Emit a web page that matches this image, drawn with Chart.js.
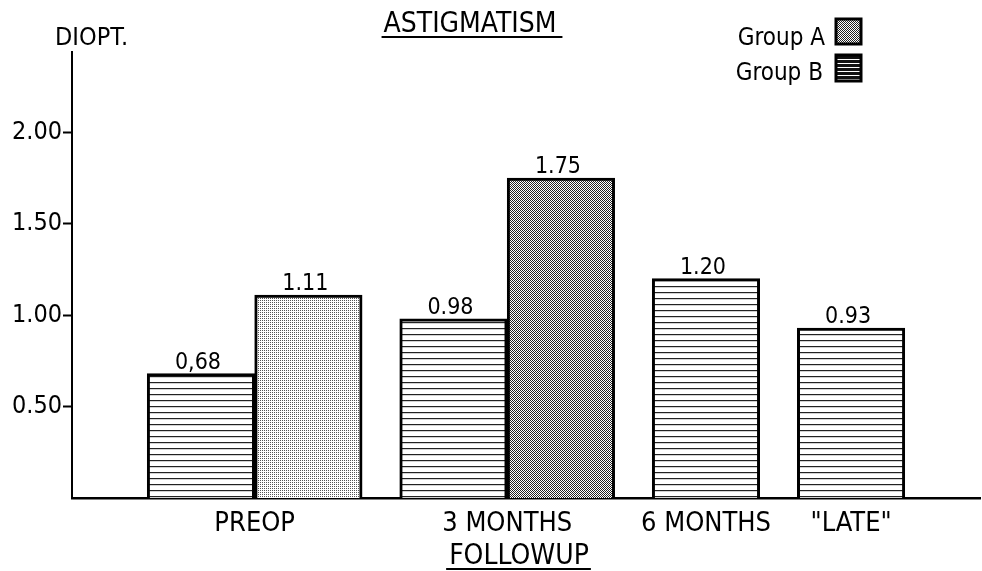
<!DOCTYPE html>
<html>
<head>
<meta charset="utf-8">
<title>Astigmatism</title>
<script src="https://cdn.jsdelivr.net/npm/chart.js@4"></script>
<style>
  html, body { margin: 0; padding: 0; background: #fff; }
</style>
</head>
<body>
<canvas id="astigChart" width="982" height="571"></canvas>
<script>
// values (dioptres)
const categories = ['PREOP', '3 MONTHS', '6 MONTHS', '"LATE"'];
const groupA = [1.11, 1.75, null, null];
const groupB = [0.68, 0.98, 1.20, 0.93];
const labelsA = ['1.11', '1.75', null, null];
const labelsB = ['0,68', '0.98', '1.20', '0.93'];
const yTicks = [0.50, 1.00, 1.50, 2.00];
const yMax = 2.44;

// spacing along the x axis, in bar widths
const leadGap = 0.7;
const groupGap = 0.35;
const trailGap = 0.7;

const FONT = "'Liberation Sans Narrow', 'DejaVu Sans Condensed', 'Liberation Sans', sans-serif";

// Bars sit side by side inside a category, categories separated by a small gap
function buildLayout() {
    const pointsA = [];
    const pointsB = [];
    const centers = [];
    let cursor = leadGap;
    categories.forEach((cat, i) => {
        const start = cursor;
        if (groupB[i] != null) {
            pointsB.push({ x: cursor + 0.5, y: groupB[i], label: labelsB[i] });
            cursor += 1;
        }
        if (groupA[i] != null) {
            pointsA.push({ x: cursor + 0.5, y: groupA[i], label: labelsA[i] });
            cursor += 1;
        }
        centers.push((start + cursor) / 2);
        cursor += (i < categories.length - 1) ? groupGap : trailGap;
    });
    return { pointsA, pointsB, centers, xMax: cursor };
}

const ctx = document.getElementById('astigChart').getContext('2d');

function makePattern(w, h, draw) {
    const c = document.createElement('canvas');
    c.width = w;
    c.height = h;
    const g = c.getContext('2d');
    g.fillStyle = '#fff';
    g.fillRect(0, 0, w, h);
    draw(g);
    return ctx.createPattern(c, 'repeat');
}

// hatching like the printed original
const linesFill = makePattern(8, 6, g => {
    g.fillStyle = '#222';
    g.fillRect(0, 4, 8, 1.2);
});
const lightDots = makePattern(2, 2, g => {
    g.fillStyle = '#555';
    g.fillRect(0, 0, 1, 1);
});
const darkDots = makePattern(2, 2, g => {
    g.fillStyle = '#222';
    g.fillRect(0, 0, 1, 1);
    g.fillRect(1, 1, 1, 1);
});
const legendLines = makePattern(4, 4, g => {
    g.fillStyle = '#111';
    g.fillRect(0, 0, 4, 3);
});

const layoutInfo = buildLayout();

function drawUnderlined(c, text, x, y, lineY, extraLeft, extraRight) {
    c.fillText(text, x, y);
    const w = c.measureText(text).width;
    c.beginPath();
    c.lineWidth = 2;
    c.moveTo(x - w / 2 - extraLeft, lineY);
    c.lineTo(x + w / 2 + extraRight, lineY);
    c.stroke();
}

const annotations = {
    id: 'annotations',
    afterDatasetsDraw(chart) {
        const c = chart.ctx;
        c.save();
        c.fillStyle = '#000';
        c.font = '23px ' + FONT;
        c.textAlign = 'center';
        c.textBaseline = 'alphabetic';
        chart.data.datasets.forEach((ds, di) => {
            const meta = chart.getDatasetMeta(di);
            meta.data.forEach((bar, i) => {
                const txt = ds.data[i].label;
                if (txt) c.fillText(txt, bar.x - 3, bar.y - 5);
            });
        });
        c.restore();
    },
    afterDraw(chart) {
        const c = chart.ctx;
        c.save();
        c.fillStyle = '#000';
        c.strokeStyle = '#000';
        c.textBaseline = 'alphabetic';

        // title
        c.font = '28px ' + FONT;
        c.textAlign = 'center';
        drawUnderlined(c, 'ASTIGMATISM', 470, 32, 37, 2, 6);

        // y unit
        c.font = '25px ' + FONT;
        c.textAlign = 'left';
        c.fillText('DIOPT.', 55, 45);

        // x title
        c.font = '28px ' + FONT;
        c.textAlign = 'center';
        drawUnderlined(c, 'FOLLOWUP', 519, 564, 569, 3, 2);

        // legend
        c.font = '24px ' + FONT;
        c.textAlign = 'right';
        c.fillText('Group A', 825, 45);
        c.fillText('Group B', 823, 80);
        c.lineWidth = 3;
        c.fillStyle = darkDots;
        c.fillRect(836, 19, 25, 25);
        c.strokeRect(836, 19, 25, 25);
        c.fillStyle = legendLines;
        c.fillRect(836, 55, 25, 26);
        c.strokeRect(836, 55, 25, 26);
        c.restore();
    }
};

const chart = new Chart(ctx, {
    type: 'bar',
    data: {
        datasets: [
            {
                label: 'Group B',
                data: layoutInfo.pointsB,
                backgroundColor: linesFill,
                borderColor: '#000',
                borderWidth: 3,
                grouped: false,
                barPercentage: 1,
                categoryPercentage: 1
            },
            {
                label: 'Group A',
                data: layoutInfo.pointsA,
                backgroundColor: [lightDots, darkDots],
                borderColor: '#000',
                borderWidth: 3,
                grouped: false,
                barPercentage: 1,
                categoryPercentage: 1
            }
        ]
    },
    options: {
        responsive: false,
        animation: false,
        layout: { padding: { top: 52, right: 2, left: 0, bottom: 0 } },
        scales: {
            x: {
                type: 'linear',
                offset: false,
                min: 0,
                max: layoutInfo.xMax,
                afterFit: scale => { scale.height = 73; },
                afterBuildTicks: scale => {
                    scale.ticks = layoutInfo.centers.map(v => ({ value: v }));
                },
                grid: { display: false },
                border: { display: true, color: '#000', width: 2.5 },
                ticks: {
                    autoSkip: false,
                    maxRotation: 0,
                    padding: 2,
                    color: '#000',
                    font: { family: FONT, size: 27 },
                    callback: (value, index) => categories[index]
                }
            },
            y: {
                min: 0,
                max: yMax,
                afterFit: scale => { scale.width = 72; },
                afterBuildTicks: scale => {
                    scale.ticks = yTicks.map(v => ({ value: v }));
                },
                grid: {
                    drawOnChartArea: false,
                    drawTicks: true,
                    tickLength: 9,
                    tickWidth: 2,
                    tickColor: '#000'
                },
                border: { display: true, color: '#000', width: 2 },
                ticks: {
                    padding: 1,
                    color: '#000',
                    font: { family: FONT, size: 25 },
                    callback: value => value.toFixed(2)
                }
            }
        },
        plugins: {
            legend: { display: false },
            tooltip: { enabled: false }
        }
    },
    plugins: [annotations]
});
</script>
</body>
</html>
